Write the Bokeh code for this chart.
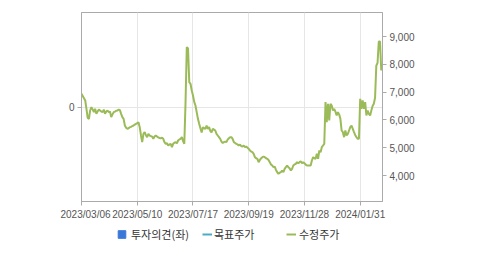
from bokeh.plotting import figure
from bokeh.models import (Range1d, LinearAxis, FixedTicker, Legend, LegendItem,
                          Spacer, NumeralTickFormatter)
from bokeh.layouts import row, column
from bokeh.embed import file_html
from bokeh.resources import INLINE

# 수정주가 (adjusted price), one value per trading day from 2023/03/06
price = [
    6940, 6860, 6780, 6700, 6400, 6070, 6040, 6340, 6460, 6380,
    6280, 6400, 6220, 6300, 6370, 6340, 6300, 6280, 6370, 6220,
    6300, 6340, 6280, 6300, 6100, 6200, 6280, 6300, 6330, 6340,
    6370, 6350, 6220, 6100, 6040, 5800, 5720, 5680, 5700, 5740,
    5750, 5780, 5800, 5830, 5860, 5880, 5915, 5740, 5450, 5200,
    5500, 5560, 5450, 5380, 5500, 5440, 5420, 5400, 5320, 5400,
    5440, 5400, 5370, 5350, 5340, 5360, 5320, 5200, 5140, 5160,
    5080, 5120, 5140, 5020, 5140, 5180, 5200, 5160, 5260, 5300,
    5320, 5380, 5240, 5140, 6640, 8620, 8570, 7360, 7300, 7060,
    6880, 6650, 6520, 6280, 6040, 5860, 5700, 5550, 5740, 5700,
    5680, 5800, 5680, 5740, 5600, 5550, 5680, 5650, 5620, 5500,
    5440, 5380, 5320, 5220, 5170, 5200, 5220, 5200, 5290, 5340,
    5380, 5380, 5320, 5200, 5170, 5140, 5120, 5080, 5110, 5060,
    5040, 5080, 5020, 5040, 5000, 4960, 4900, 4860, 4840, 4780,
    4660, 4620, 4600, 4480, 4560, 4620, 4660, 4680, 4660, 4620,
    4600, 4560, 4480, 4400, 4360, 4300, 4320, 4200, 4120, 4060,
    4100, 4120, 4180, 4120, 4240, 4300, 4360, 4300, 4260, 4180,
    4240, 4360, 4400, 4420, 4480, 4440, 4480, 4510, 4440, 4480,
    4440, 4390, 4360, 4360, 4360, 4360, 4540, 4660, 4620, 4600,
    4780, 4600, 4900, 4840, 5020, 5080, 5140, 6640, 5920, 6580,
    5980, 6580, 6520, 6340, 6400, 6300, 6160, 6280, 6200, 6040,
    5620, 5560, 5380, 5620, 5440, 5500, 5620, 5740, 5800, 5680,
    5560, 5450, 5380, 5320, 5320, 6760, 6400, 6700, 6400, 6640,
    6160, 6340, 6220, 6160, 6340, 6500, 6580, 6800, 7950, 8050,
    8820, 8820, 7780,
]
day_index = list(range(len(price)))

# 투자의견 / 목표주가: no values shown in the chart
opinion = [float("nan")]
target = [float("nan")]

tick_index = [0, 45, 90, 135, 180, 225]
tick_labels = ["2023/03/06", "2023/05/10", "2023/07/17", "2023/09/19",
               "2023/11/28", "2024/01/31"]
price_ticks = [4000, 5000, 6000, 7000, 8000, 9000]
opinion_ticks = [0]
legend_labels = ["투자의견(좌)", "목표주가", "수정주가"]

AXIS_C = "#aaaaaa"
GRID_C = "#e6e6e6"
TEXT_C = "#555555"
TICK_FONT = "Liberation Sans"
OP_C = "#3a78d8"
TP_C = "#4bacc6"
PR_C = "#9bbb59"

p = figure(width=419, height=222, output_backend="svg", toolbar_location=None,
           x_range=Range1d(0, 243), y_range=Range1d(-1, 1),
           min_border_left=21, min_border_right=97, min_border_top=12,
           min_border_bottom=21)
p.extra_y_ranges = {"price": Range1d(3065, 9865)}
p.background_fill_color = "white"
p.border_fill_color = "white"
p.outline_line_color = AXIS_C

xa = p.xaxis[0]
xa.ticker = FixedTicker(ticks=tick_index)
xa.major_label_overrides = {t: l for t, l in zip(tick_index, tick_labels)}
ya = p.yaxis[0]
ya.ticker = FixedTicker(ticks=opinion_ticks)
ra = LinearAxis(y_range_name="price", ticker=FixedTicker(ticks=price_ticks),
                formatter=NumeralTickFormatter(format="0,0"))
p.add_layout(ra, "right")

for ax in (xa, ya, ra):
    ax.axis_line_color = AXIS_C
    ax.major_tick_line_color = AXIS_C
    ax.minor_tick_line_color = None
    ax.major_tick_in = 0
    ax.major_tick_out = 4
    ax.major_label_text_font = TICK_FONT
    ax.major_label_text_font_size = "10px"
    ax.major_label_text_color = TEXT_C
    ax.major_label_standoff = 3

p.xgrid.grid_line_color = GRID_C
p.ygrid.grid_line_color = GRID_C

p.line(day_index, price, color=PR_C, line_width=2, y_range_name="price")

# legend strip below the chart
lf = figure(width=479, height=33, output_backend="svg", toolbar_location=None,
            x_range=Range1d(0, 1), y_range=Range1d(0, 1),
            x_axis_type=None, y_axis_type=None, min_border=0)
lf.outline_line_color = None
lf.grid.visible = False
lf.border_fill_color = "white"
r_op = lf.scatter(opinion, opinion, marker="square", color=OP_C)
r_tp = lf.line(target, target, color=TP_C, line_width=2)
r_pr = lf.line(opinion, opinion, color=PR_C, line_width=2)

def make_legend(label, rend, loc, gw, standoff):
    return Legend(items=[LegendItem(label=label, renderers=[rend], index=0)],
                  location=loc, glyph_width=gw, glyph_height=20,
                  label_standoff=standoff, padding=0, margin=0, spacing=0,
                  border_line_alpha=0, background_fill_alpha=0,
                  label_text_font="Noto Sans CJK KR",
                  label_text_font_size="11px", label_text_color="#333333")

lf.add_layout(make_legend(legend_labels[0], r_op, (112, 11), 19, 0))
lf.add_layout(make_legend(legend_labels[1], r_tp, (202, 11), 10, 2))
lf.add_layout(make_legend(legend_labels[2], r_pr, (286, 11), 10, 3))

layout = column(row(Spacer(width=60, height=222), p), lf)
open("out.html", "w").write(file_html(layout, INLINE))
